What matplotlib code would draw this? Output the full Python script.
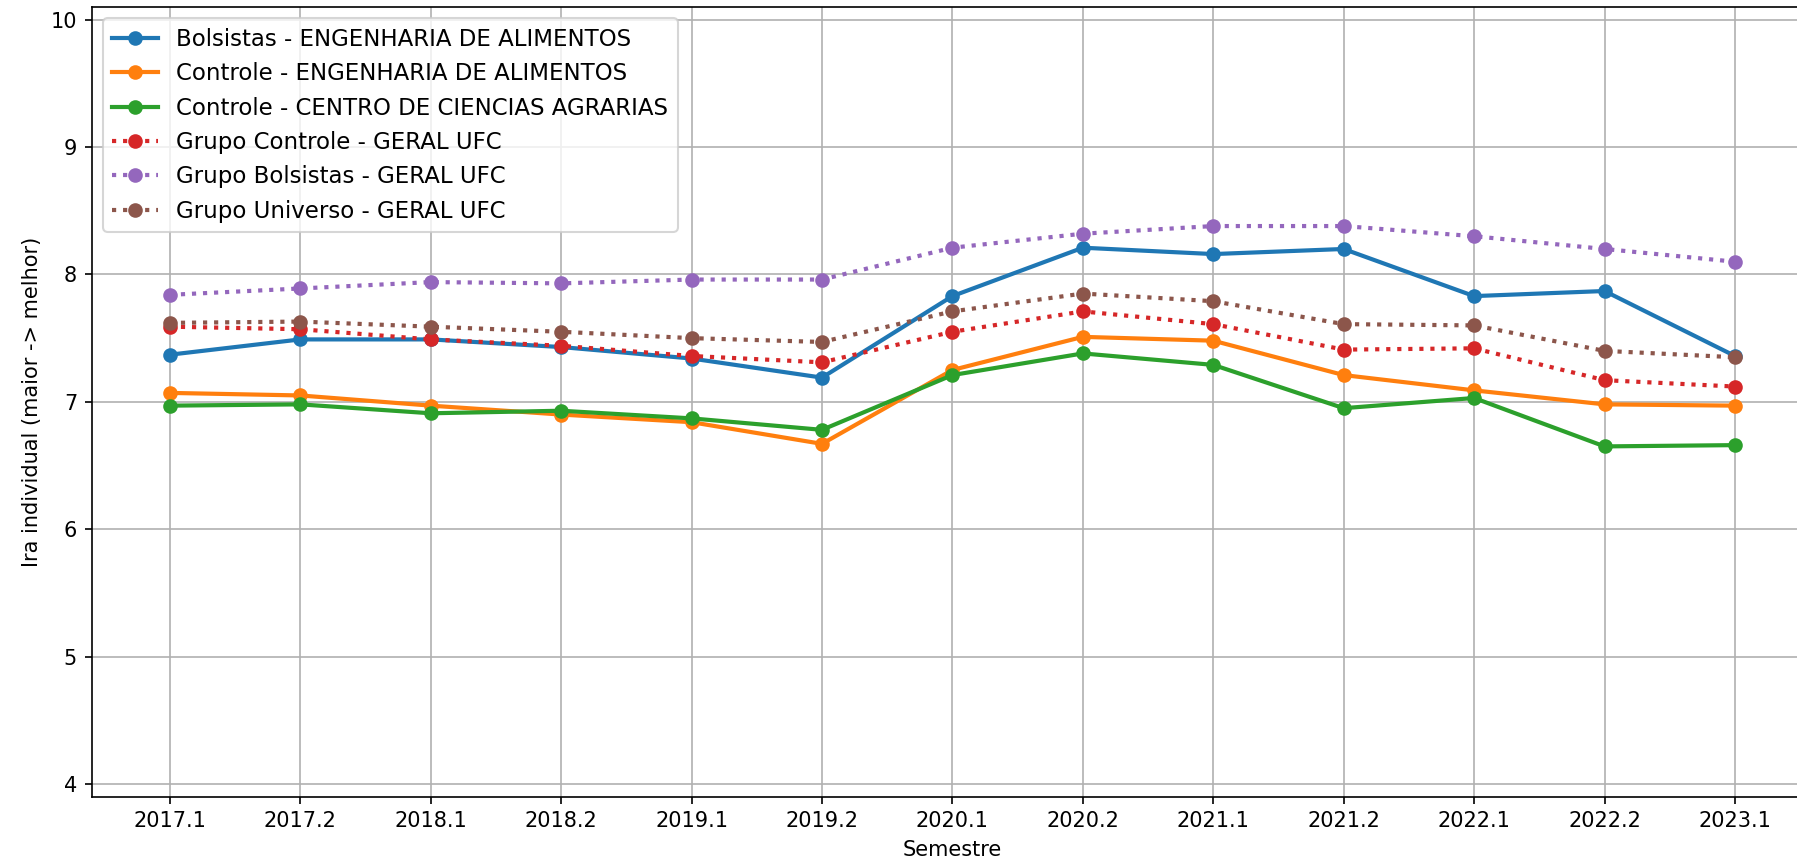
from matplotlib import pyplot as plt

# semestres e IRA medio de cada grupo
semestres = ['2017.1', '2017.2', '2018.1', '2018.2', '2019.1', '2019.2', '2020.1',
             '2020.2', '2021.1', '2021.2', '2022.1', '2022.2', '2023.1']

bolsistas_eng = [7.37, 7.49, 7.49, 7.43, 7.34, 7.19, 7.83, 8.21, 8.16, 8.20, 7.83, 7.87, 7.36]
controle_eng = [7.07, 7.05, 6.97, 6.90, 6.84, 6.67, 7.25, 7.51, 7.48, 7.21, 7.09, 6.98, 6.97]
controle_cca = [6.97, 6.98, 6.91, 6.93, 6.87, 6.78, 7.21, 7.38, 7.29, 6.95, 7.03, 6.65, 6.66]
controle_ufc = [7.59, 7.57, 7.49, 7.44, 7.36, 7.31, 7.55, 7.71, 7.61, 7.41, 7.42, 7.17, 7.12]
bolsistas_ufc = [7.84, 7.89, 7.94, 7.93, 7.96, 7.96, 8.21, 8.32, 8.38, 8.38, 8.30, 8.20, 8.10]
universo_ufc = [7.62, 7.63, 7.59, 7.55, 7.50, 7.47, 7.71, 7.85, 7.79, 7.61, 7.60, 7.40, 7.35]

fig = plt.figure(figsize=(1797 / 150, 862 / 150), dpi=150)
ax = fig.add_axes([0.051, 0.0758, 0.958, 0.9161])

ax.plot(semestres, bolsistas_eng, marker='o', linewidth=2, label='Bolsistas - ENGENHARIA DE ALIMENTOS')
ax.plot(semestres, controle_eng, marker='o', linewidth=2, label='Controle - ENGENHARIA DE ALIMENTOS')
ax.plot(semestres, controle_cca, marker='o', linewidth=2, label='Controle - CENTRO DE CIENCIAS AGRARIAS')
ax.plot(semestres, controle_ufc, marker='o', linestyle=':', linewidth=2, label='Grupo Controle - GERAL UFC')
ax.plot(semestres, bolsistas_ufc, marker='o', linestyle=':', linewidth=2, label='Grupo Bolsistas - GERAL UFC')
ax.plot(semestres, universo_ufc, marker='o', linestyle=':', linewidth=2, label='Grupo Universo - GERAL UFC')

ax.set_ylim(3.9, 10.1)
ax.set_xlim(-0.6, 12.6)
ax.set_xlabel('Semestre')
ax.set_ylabel('Ira individual (maior -> melhor)')
ax.grid(True)
ax.legend(loc='upper left', fontsize=11)

fig.savefig('out.png', dpi=150)
